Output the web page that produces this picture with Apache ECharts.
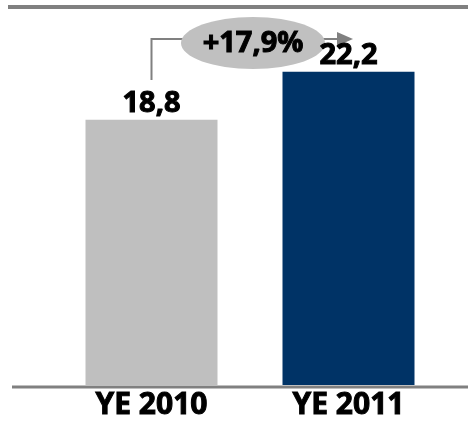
<!DOCTYPE html>
<html><head><meta charset="utf-8">
<script src="https://cdn.jsdelivr.net/npm/echarts@6/dist/echarts.min.js"></script>
<style>html,body{margin:0;padding:0;background:#fff}#c{width:468px;height:421px}</style>
</head><body><div id="c"></div>
<script>
const categories = ['YE 2010', 'YE 2011'];
const values = [18.8, 22.2];
const growthLabel = '+17,9%';
const barColors = ['#BFBFBF', '#003366'];
const FONT = '"Open Sans", sans-serif';

const chart = echarts.init(document.getElementById('c'));
chart.setOption({
  animation: false,
  grid: { left: 53, right: 21, top: 18, bottom: 36 },
  xAxis: {
    type: 'category', data: categories,
    axisLine: { show: false }, axisTick: { show: false },
    axisLabel: { color: '#000', fontFamily: FONT, fontWeight: 'bold', fontSize: 30, margin: 5,
      textBorderColor: '#000', textBorderWidth: 1 }
  },
  yAxis: { type: 'value', min: 0, max: 26, show: false, splitLine: { show: false } },
  series: [{
    type: 'bar', barWidth: 132,
    data: values.map((v, i) => ({ value: v, itemStyle: { color: barColors[i] } })),
    label: {
      show: true, position: 'top', distance: 1, color: '#000',
      fontFamily: FONT, fontWeight: 'bold', fontSize: 29,
      textBorderColor: '#000', textBorderWidth: 1,
      formatter: p => String(p.value).replace('.', ',')
    }
  }]
});

const x1 = chart.convertToPixel({ xAxisIndex: 0 }, categories[0]);
const y0 = chart.convertToPixel({ yAxisIndex: 0 }, 0);
const lineY = 39, cx = 253, cy = 43;
chart.setOption({
  graphic: [
    { type: 'line', shape: { x1: 8, y1: 7, x2: 468, y2: 7 }, style: { stroke: '#808080', lineWidth: 4 } },
    { type: 'line', shape: { x1: 12, y1: y0 + 2, x2: 468, y2: y0 + 2 }, style: { stroke: '#808080', lineWidth: 3 } },
    { type: 'polyline', shape: { points: [[x1, 80], [x1, lineY], [cx, lineY]] }, style: { stroke: '#808080', lineWidth: 2, fill: null } },
    { type: 'line', shape: { x1: cx, y1: lineY, x2: 338, y2: lineY }, style: { stroke: '#808080', lineWidth: 2 } },
    { type: 'polygon', shape: { points: [[337, 32], [353, 39], [337, 46]] }, style: { fill: '#808080' } },
    { type: 'ellipse', shape: { cx: cx, cy: cy, rx: 72, ry: 26 }, style: { fill: '#C0C0C0' } },
    { type: 'text', x: cx, y: cy + 1, style: { text: growthLabel, fill: '#000', font: 'bold 29px ' + FONT,
      stroke: '#000', lineWidth: 1, align: 'center', verticalAlign: 'middle' } }
  ]
});
</script></body></html>
